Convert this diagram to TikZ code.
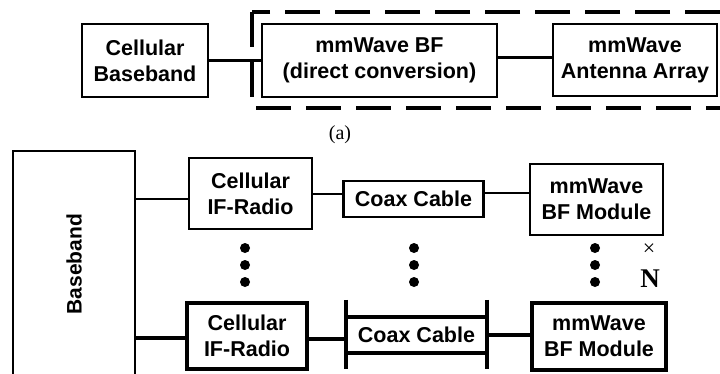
\documentclass[tikz,border=0pt]{standalone}
\usepackage{fontspec}
\setmainfont{Liberation Sans}
\newfontfamily\timesf{Liberation Serif}
\usepackage{graphicx}
\usepackage{tikz}

\tikzset{
  blk/.style={draw, line width=2.2pt, align=center, inner sep=0pt,
    font=\bfseries\fontsize{21.5}{26}\selectfont},
  thk/.style={blk, line width=3.3pt},
  wire/.style={line width=2.4pt},
  thinwire/.style={line width=1.8pt},
  thkwire/.style={line width=3.3pt},
  vdot/.style={circle, fill, inner sep=0pt, minimum size=10pt}
}

\begin{document}
\begin{tikzpicture}[x=1pt,y=-1pt]
  \useasboundingbox (0,0) rectangle (720,373);
  \clip (0,0) rectangle (720,373);
  % (a) direct conversion
  \node[blk, minimum width=126, minimum height=73] (cbb) at (145,60.5) {Cellular\\Baseband};
  \node[blk, minimum width=235, minimum height=73] (dbf) at (379.5,60.5) {mmWave BF\\(direct conversion)};
  \node[blk, minimum width=164, minimum height=72] (ant) at (635,60) {mmWave\\Antenna Array};
  \draw[line width=4pt, dash pattern=on 35pt off 15pt] (252,12) rectangle (740,108);
  \draw[wire] (cbb) -- (dbf);
  \draw[wire] (dbf.east) ++(0,-3) -- +(56,0);
  \node[font=\timesf\fontsize{20}{24}\selectfont] (capa) at (340,135) {(a)};
  % (b) IF architecture
  \node[draw, line width=2.2pt, minimum width=122, minimum height=226, inner sep=0pt,
    font=\bfseries\fontsize{21}{26}\selectfont] (bb) at (74,264) {\rotatebox{90}{Baseband}};
  \node[blk, minimum width=123, minimum height=71] (if1) at (250.5,193.5) {Cellular\\IF-Radio};
  \node[blk, minimum width=140, minimum height=36] (cx1) at (413.5,199) {Coax Cable};
  \node[blk, minimum width=133, minimum height=71] (bf1) at (596.5,199.5) {mmWave\\BF Module};
  \draw[thinwire] (bb.east |- 0,199) -- (if1.west |- 0,199);
  \draw[wire] (if1.east |- 0,194) -- (cx1.west |- 0,194);
  \draw[wire] (cx1.east |- 0,193) -- (bf1.west |- 0,193);
  \node[thk, minimum width=120, minimum height=66] (if2) at (247,336) {Cellular\\IF-Radio};
  \node[blk, draw=none, minimum width=139, minimum height=34] (cx2) at (416.5,335) {Coax Cable};
  \draw[thkwire] (cx2.north west) -- (cx2.north east) (cx2.south west) -- (cx2.south east);
  \draw[thkwire] ([yshift=17]cx2.north west) -- ([yshift=-16]cx2.south west);
  \draw[thkwire] ([yshift=17]cx2.north east) -- ([yshift=-16]cx2.south east);
  \node[thk, minimum width=134, minimum height=67] (bf2) at (599,336.5) {mmWave\\BF Module};
  \draw[thkwire] (bb.east |- 0,338) -- (if2.west |- 0,338);
  \draw[thkwire] (if2.east |- 0,339) -- (cx2.west |- 0,339);
  \draw[thkwire] (cx2.east |- 0,335) -- (bf2.west |- 0,335);
  \foreach \x/\n in {245/a,414/b,595/c}
    \foreach \y/\m in {248/1,265/2,282/3}
      \node[vdot] (d\n\m) at (\x,\y) {};
  \node[font=\timesf\fontsize{22}{22}\selectfont] (times) at (649,250) {×};
  \node[font=\timesf\bfseries\fontsize{27}{27}\selectfont] (nn) at (650,279) {N};
\end{tikzpicture}
\end{document}
